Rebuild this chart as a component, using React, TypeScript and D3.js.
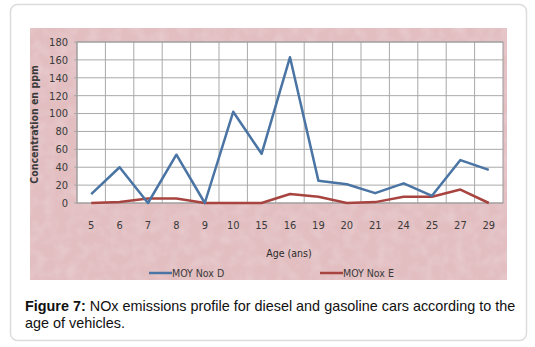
import * as d3 from "d3";

const ages = ["5", "6", "7", "8", "9", "10", "15", "16", "19", "20", "21", "24", "25", "27", "29"];
const noxDiesel = [10, 40, 0, 54, 0, 102, 55, 163, 25, 21, 11, 22, 8, 48, 37];
const noxGasoline = [0, 1, 5, 5, 0, 0, 0, 10, 7, 0, 1, 7, 7, 15, 0];
const yTicks = [0, 20, 40, 60, 80, 100, 120, 140, 160, 180];
const seriesNames = ["MOY Nox D", "MOY Nox E"];

const WIDTH = 535;
const HEIGHT = 347;
const PLOT = { left: 77, right: 503, top: 42, bottom: 203 };
const BLUE = "#4a74a3";
const RED = "#a8443f";
const FONT = "'Liberation Sans Narrow', 'DejaVu Sans Condensed', sans-serif";
const INK = "#3a3a3a";

export default function App() {
  const x = d3.scaleBand<string>().domain(ages).range([PLOT.left, PLOT.right]);
  const y = d3.scaleLinear().domain([0, 180]).range([PLOT.bottom, PLOT.top]);
  const cx = (age: string) => (x(age) ?? 0) + x.bandwidth() / 2;
  const line = d3
    .line<number>()
    .x((_, i) => cx(ages[i]))
    .y((v) => y(v));

  return (
    <svg
      width={WIDTH}
      height={HEIGHT}
      viewBox={`0 0 ${WIDTH} ${HEIGHT}`}
      style={{ position: "fixed", left: 0, top: 0, background: "#fff" }}
    >
      <defs>
        <filter id="mottle" x="0" y="0" width="100%" height="100%">
          <feTurbulence type="fractalNoise" baseFrequency="0.09" numOctaves="2" seed="4" result="noise" />
          <feColorMatrix
            in="noise"
            type="matrix"
            values="0 0 0 0 1  0 0 0 0 1  0 0 0 0 1  0 0 0 -0.9 0.55"
            result="spots"
          />
          <feComposite in="spots" in2="SourceGraphic" operator="in" />
        </filter>
      </defs>

      <rect x={10.5} y={4.5} width={516} height={336} rx={7} fill="#fff" stroke="#dcdcdc" strokeWidth={1.5} />

      {/* chart background */}
      <rect x={30} y={28} width={477} height={252} fill="#e2bec1" />
      <rect x={30} y={28} width={477} height={252} fill="#e2bec1" filter="url(#mottle)" opacity={0.4} />

      {/* plot area */}
      <rect x={PLOT.left} y={PLOT.top} width={PLOT.right - PLOT.left} height={PLOT.bottom - PLOT.top} fill="#fff" />
      {yTicks.map((t) => (
        <line key={t} x1={PLOT.left - 3} x2={PLOT.right} y1={y(t)} y2={y(t)} stroke="#a9a9a9" strokeWidth={1} />
      ))}
      {ages.map((a) => (
        <line key={a} x1={x(a)} x2={x(a)} y1={PLOT.top} y2={PLOT.bottom} stroke="#a9a9a9" strokeWidth={1} />
      ))}
      <rect
        x={PLOT.left}
        y={PLOT.top}
        width={PLOT.right - PLOT.left}
        height={PLOT.bottom - PLOT.top}
        fill="none"
        stroke="#9a9a9a"
      />

      {/* y axis */}
      {yTicks.map((t) => (
        <text key={t} x={68} y={y(t)} dy="0.35em" textAnchor="end" fontFamily={FONT} fontSize={11} fill={INK}>
          {t}
        </text>
      ))}
      <text
        transform={`translate(38 ${(PLOT.top + PLOT.bottom) / 2 + 2}) rotate(-90)`}
        textAnchor="middle"
        fontFamily={FONT}
        fontSize={10.5}
        fontWeight="bold"
        fill={INK}
      >
        Concentration en ppm
      </text>

      {/* x axis */}
      {ages.map((a) => (
        <text key={a} x={cx(a)} y={225} dy="0.35em" textAnchor="middle" fontFamily={FONT} fontSize={11} fill={INK}>
          {a}
        </text>
      ))}
      <text x={289} y={253} dy="0.35em" textAnchor="middle" fontFamily={FONT} fontSize={10.5} fill="#2a2a2a">
        Age (ans)
      </text>

      {/* series */}
      <path d={line(noxGasoline) ?? undefined} fill="none" stroke={RED} strokeWidth={2.5} strokeLinejoin="round" />
      <path d={line(noxDiesel) ?? undefined} fill="none" stroke={BLUE} strokeWidth={2.5} strokeLinejoin="round" />

      {/* legend */}
      {seriesNames.map((name, i) => {
        const lx = i === 0 ? 149 : 320;
        return (
          <g key={name}>
            <line x1={lx} x2={lx + 23} y1={273} y2={273} stroke={i === 0 ? BLUE : RED} strokeWidth={2.5} />
            <text x={lx + 23} y={273} dy="0.35em" fontFamily={FONT} fontSize={10.5} fill={INK}>
              {name}
            </text>
          </g>
        );
      })}

      {/* caption */}
      <text x={25} y={311} fontFamily="'Liberation Sans', Arial, sans-serif" fontSize={14.4} fill="#111">
        <tspan fontWeight="bold">Figure 7:</tspan> NOx emissions profile for diesel and gasoline cars according to the
      </text>
      <text x={25} y={328} fontFamily="'Liberation Sans', Arial, sans-serif" fontSize={14.4} fill="#111">
        age of vehicles.
      </text>
    </svg>
  );
}
